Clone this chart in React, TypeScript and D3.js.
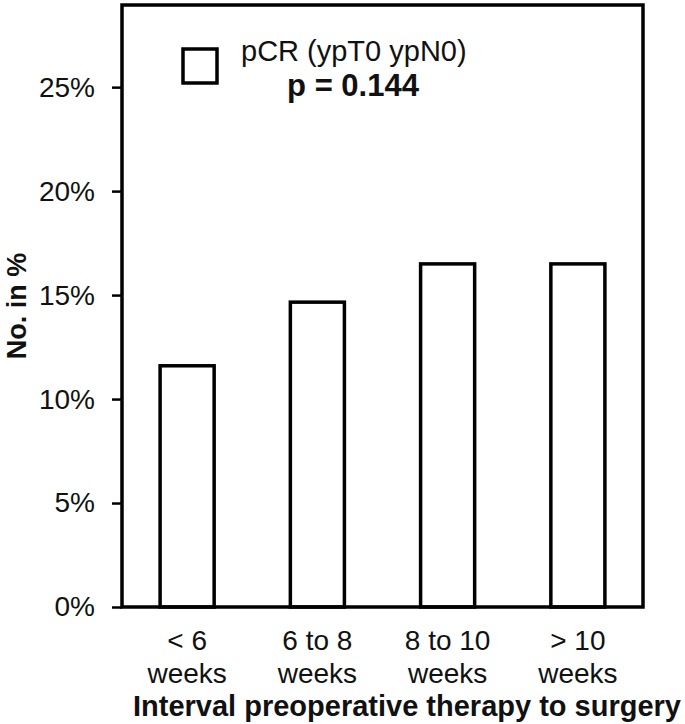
import React, { useEffect, useRef } from 'react';
import * as d3 from 'd3';

const categories = ['< 6 weeks', '6 to 8 weeks', '8 to 10 weeks', '> 10 weeks'];
const categoryLines = [['< 6', 'weeks'], ['6 to 8', 'weeks'], ['8 to 10', 'weeks'], ['> 10', 'weeks']];
const pcrValues = [0.116, 0.1466, 0.165, 0.165];
const yTicks = [0, 0.05, 0.1, 0.15, 0.2, 0.25];

export default function App() {
  const ref = useRef<SVGSVGElement>(null);

  useEffect(() => {
    if (!ref.current) return;
    const svg = d3.select(ref.current);
    svg.selectAll('*').remove();

    const W = 685, H = 724;
    const left = 122, right = 643, top = 5, bottom = 607;
    const font = 'Liberation Sans, Arial, sans-serif';

    svg.attr('width', W).attr('height', H);

    const x = d3.scaleBand().domain(categories).range([left, right]).paddingInner(0.585).paddingOuter(0.2925);
    const y = d3.scaleLinear().domain([0, 0.2895]).range([bottom, top]);

    // bars
    svg.selectAll('.bar')
      .data(categories)
      .enter()
      .append('rect')
      .attr('x', d => x(d) || 0)
      .attr('y', (d, i) => y(pcrValues[i]))
      .attr('width', x.bandwidth())
      .attr('height', (d, i) => bottom - y(pcrValues[i]))
      .attr('fill', '#fff')
      .attr('stroke', '#000')
      .attr('stroke-width', 3.5);

    // plot frame
    svg.append('rect')
      .attr('x', left)
      .attr('y', top)
      .attr('width', right - left)
      .attr('height', bottom - top)
      .attr('fill', 'none')
      .attr('stroke', '#000')
      .attr('stroke-width', 3.5);

    // y axis
    const yAxis = svg.append('g')
      .attr('transform', `translate(${left},0)`)
      .call(d3.axisLeft(y).tickValues(yTicks).tickSize(10).tickPadding(17).tickFormat(d3.format('.0%')));
    yAxis.select('.domain').remove();
    yAxis.selectAll('line').attr('stroke', '#000').attr('stroke-width', 2.5);
    yAxis.selectAll('text')
      .style('font-family', font)
      .style('font-size', '28px')
      .attr('fill', '#111');

    // category labels
    const cat = svg.selectAll('.cat')
      .data(categories)
      .enter()
      .append('text')
      .attr('text-anchor', 'middle')
      .style('font-family', font)
      .style('font-size', '28px')
      .attr('fill', '#111');
    cat.each(function (d, i) {
      const cx = (x(d) || 0) + x.bandwidth() / 2;
      categoryLines[i].forEach((line, j) => {
        d3.select(this).append('tspan')
          .attr('x', cx)
          .attr('y', 650 + j * 33)
          .text(line);
      });
    });

    // axis titles
    svg.append('text')
      .attr('x', 133)
      .attr('y', 716)
      .style('font-family', font)
      .style('font-size', '29px')
      .style('font-weight', 'bold')
      .attr('fill', '#111')
      .text('Interval preoperative therapy to surgery');

    svg.append('text')
      .attr('transform', `translate(26,${(top + bottom) / 2}) rotate(-90)`)
      .attr('text-anchor', 'middle')
      .style('font-family', font)
      .style('font-size', '27px')
      .style('font-weight', 'bold')
      .attr('fill', '#111')
      .text('No. in %');

    // legend
    svg.append('rect')
      .attr('x', 183)
      .attr('y', 49)
      .attr('width', 34)
      .attr('height', 34)
      .attr('fill', '#fff')
      .attr('stroke', '#000')
      .attr('stroke-width', 3.5);
    svg.append('text')
      .attr('x', 241)
      .attr('y', 61)
      .style('font-family', font)
      .style('font-size', '29px')
      .attr('fill', '#111')
      .text('pCR (ypT0 ypN0)');
    svg.append('text')
      .attr('x', 353)
      .attr('y', 96)
      .attr('text-anchor', 'middle')
      .style('font-family', font)
      .style('font-size', '31px')
      .style('font-weight', 'bold')
      .attr('fill', '#111')
      .text('p = 0.144');
  }, []);

  return (
    <div style={{ position: 'absolute', left: 0, top: 0, background: '#fff' }}>
      <svg ref={ref} style={{ display: 'block' }}></svg>
    </div>
  );
}
